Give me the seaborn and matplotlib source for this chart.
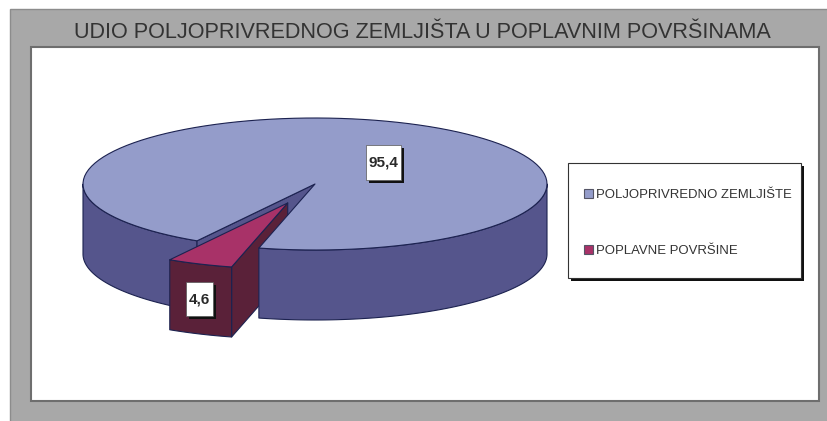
import numpy as np
import matplotlib
matplotlib.use('Agg')
import matplotlib.pyplot as plt
from matplotlib.patches import Patch, Rectangle
import seaborn as sns

categories = ['POLJOPRIVREDNO ZEMLJIŠTE', 'POPLAVNE POVRŠINE']
values = [95.4, 4.6]
value_labels = ['95,4', '4,6']
title = 'UDIO POLJOPRIVREDNOG ZEMLJIŠTA U POPLAVNIM POVRŠINAMA'

top_colors = ['#949cca', '#a83268']
side_colors = ['#55558c', '#5a2139']
edge = '#1c2250'

sns.set_theme(style='white')
plt.rcParams['font.family'] = ['Liberation Sans', 'DejaVu Sans']

# pie geometry in pixels
cx, cy, rx, ry, depth = 315, 184, 232, 66, 70
start = 104
explode = 0.31

fig = plt.figure(figsize=(8.27, 4.21), dpi=100)
ax = fig.add_axes([0, 0, 1, 1])
ax.set_xlim(0, 827)
ax.set_ylim(421, 0)
ax.axis('off')

# panel and plot area
ax.add_patch(Rectangle((10, 9), 830, 430, fc='#a8a8a8', ec='#8c8c8c', lw=1))
ax.add_patch(Rectangle((31, 47), 788, 354, fc='white', ec='#6e6e6e', lw=1.5))
ax.text(422, 33, title, ha='center', va='center', fontsize=15.6, color='#333333')


def arc(t0, t1, ox=0, oy=0):
    t = np.radians(np.linspace(t0, t1, 120))
    return cx + ox + rx * np.cos(t), cy + oy + ry * np.sin(t)


def wall(t0, t1, ox=0, oy=0):
    x, y = arc(t0, t1, ox, oy)
    return np.r_[x, x[::-1]], np.r_[y, y[::-1] + depth]


sweep = 360 * values[1] / sum(values)
end = start + sweep
mid = np.radians(start + sweep / 2)
ox, oy = explode * rx * np.cos(mid), explode * ry * np.sin(mid)

style = dict(lw=0.8, edgecolor=edge, joinstyle='round')

# left wall and the inner wall of the gap
x, y = wall(end, 180)
ax.fill(x, y, facecolor=side_colors[0], zorder=2, **style)
ex, ey = arc(end, end)
ax.fill([cx, ex[0], ex[0], cx], [cy, ey[0], ey[0] + depth, cy + depth],
        facecolor=side_colors[0], zorder=3, **style)

# exploded slice
sx, sy = arc(start, end, ox, oy)
ax.fill([cx + ox, sx[0], sx[0], cx + ox], [cy + oy, sy[0], sy[0] + depth, cy + oy + depth],
        facecolor=side_colors[1], zorder=4, **style)
fx, fy = wall(start, end, ox, oy)
ax.fill(fx, fy, facecolor=side_colors[1], zorder=5, **style)
ax.fill(np.r_[cx + ox, sx], np.r_[cy + oy, sy], facecolor=top_colors[1], zorder=6, **style)

# big slice: right wall and top go over the slice's inner face
x, y = wall(0, start)
ax.fill(x, y, facecolor=side_colors[0], zorder=7, **style)
tx, ty = arc(end, start + 360)
ax.fill(np.r_[cx, tx], np.r_[cy, ty], facecolor=top_colors[0], zorder=8, **style)

# value labels with drop shadow
boxes = [(366, 145, 35, 35), (186, 282, 27, 34)]
for (bx, by, bw, bh), txt in zip(boxes, value_labels):
    ax.add_patch(Rectangle((bx + 3, by + 3), bw, bh, fc='#111111', ec='none', zorder=9))
    ax.add_patch(Rectangle((bx, by), bw, bh, fc='white', ec='#555555', lw=0.5, zorder=10))
    ax.text(bx + bw / 2, by + bh / 2, txt, ha='center', va='center', fontsize=11,
            fontweight='bold', color='#2a2a2a', zorder=11)

# legend box and shadow, entries on top without a frame
ax.add_patch(Rectangle((571, 166), 233, 115, fc='#111111', ec='none', zorder=9))
ax.add_patch(Rectangle((568, 163), 233, 115, fc='white', ec='#333333', lw=0.8, zorder=10))
handles = [Patch(facecolor=c, edgecolor='#555566', lw=0.8) for c in top_colors]
leg = ax.legend(handles, categories, loc='upper left', bbox_to_anchor=(584 / 827, 1 - 188.5 / 421),
                borderaxespad=0, frameon=False, fontsize=9.45, labelcolor='#333333',
                handlelength=0.72, handleheight=0.72, handletextpad=0.2, labelspacing=3.35,
                borderpad=0)
leg.set_zorder(12)

fig.savefig('out.png', dpi=100)
